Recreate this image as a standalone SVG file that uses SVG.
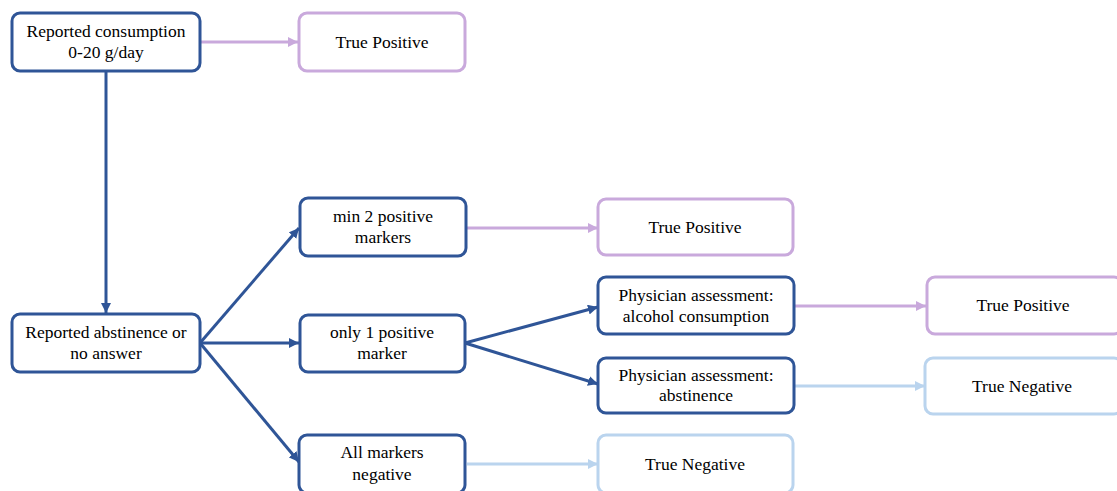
<svg xmlns="http://www.w3.org/2000/svg" width="1117" height="491" viewBox="0 0 1117 491">
<style>
.box{fill:#fff;stroke-width:3}
.dk{stroke:#2f5597}
.pu{stroke:#c9a9dc}
.lb{stroke:#bad4ee}
.t{font-family:'Liberation Serif','Times New Roman',serif;font-size:17.5px;fill:#000;text-anchor:middle}
.ln{fill:none;stroke-width:3}
</style>
<defs>
<marker id="aDk" viewBox="0 0 10 10" refX="10" refY="5" markerWidth="10" markerHeight="10" markerUnits="userSpaceOnUse" orient="auto"><path d="M0,0L10,5L0,10z" fill="#2f5597"/></marker>
<marker id="aPu" viewBox="0 0 10 10" refX="10" refY="5" markerWidth="10" markerHeight="10" markerUnits="userSpaceOnUse" orient="auto"><path d="M0,0L10,5L0,10z" fill="#c9a9dc"/></marker>
<marker id="aLb" viewBox="0 0 10 10" refX="10" refY="5" markerWidth="10" markerHeight="10" markerUnits="userSpaceOnUse" orient="auto"><path d="M0,0L10,5L0,10z" fill="#bad4ee"/></marker>
</defs>
<g id="connectors">
<line class="ln pu" x1="201" y1="42" x2="298" y2="42" marker-end="url(#aPu)"/>
<line class="ln dk" x1="106" y1="71" x2="106" y2="313" marker-end="url(#aDk)"/>
<line class="ln dk" x1="200" y1="343" x2="299" y2="228" marker-end="url(#aDk)"/>
<line class="ln dk" x1="200" y1="343" x2="299" y2="343" marker-end="url(#aDk)"/>
<line class="ln dk" x1="200" y1="343" x2="299" y2="462" marker-end="url(#aDk)"/>
<line class="ln pu" x1="467" y1="228" x2="598" y2="228" marker-end="url(#aPu)"/>
<line class="ln dk" x1="465" y1="343" x2="598" y2="307" marker-end="url(#aDk)"/>
<line class="ln dk" x1="465" y1="343" x2="598" y2="384" marker-end="url(#aDk)"/>
<line class="ln pu" x1="795" y1="306" x2="926" y2="306" marker-end="url(#aPu)"/>
<line class="ln lb" x1="795" y1="386" x2="925" y2="386" marker-end="url(#aLb)"/>
<line class="ln lb" x1="467" y1="464" x2="598" y2="464" marker-end="url(#aLb)"/>
</g>
<g id="n1"><rect class="box dk" x="12" y="13" width="188" height="58" rx="8"/><text class="t" x="106" y="37">Reported consumption</text><text class="t" x="106" y="58">0-20 g/day</text></g>
<g id="n2"><rect class="box pu" x="299" y="13" width="166" height="58" rx="8"/><text class="t" x="382" y="48">True Positive</text></g>
<g id="n3"><rect class="box dk" x="12" y="314" width="188" height="58" rx="8"/><text class="t" x="106" y="338">Reported abstinence or</text><text class="t" x="106" y="359">no answer</text></g>
<g id="n4"><rect class="box dk" x="300" y="198" width="166" height="58" rx="8"/><text class="t" x="383" y="222">min 2 positive</text><text class="t" x="383" y="243">markers</text></g>
<g id="n5"><rect class="box dk" x="300" y="315" width="165" height="57" rx="8"/><text class="t" x="382" y="338">only 1 positive</text><text class="t" x="382" y="359">marker</text></g>
<g id="n6"><rect class="box dk" x="299" y="435" width="166" height="58" rx="8"/><text class="t" x="382" y="458">All markers</text><text class="t" x="382" y="480">negative</text></g>
<g id="n7"><rect class="box pu" x="598" y="199" width="195" height="56" rx="8"/><text class="t" x="695" y="233">True Positive</text></g>
<g id="n8"><rect class="box dk" x="598" y="277" width="196" height="57" rx="8"/><text class="t" x="696" y="301">Physician assessment:</text><text class="t" x="696" y="322">alcohol consumption</text></g>
<g id="n9"><rect class="box dk" x="598" y="358" width="196" height="55" rx="8"/><text class="t" x="696" y="381">Physician assessment:</text><text class="t" x="696" y="401">abstinence</text></g>
<g id="n10"><rect class="box lb" x="598" y="435" width="195" height="58" rx="8"/><text class="t" x="695" y="470">True Negative</text></g>
<g id="n11"><rect class="box pu" x="927" y="277" width="195" height="57" rx="8"/><text class="t" x="1023" y="311">True Positive</text></g>
<g id="n12"><rect class="box lb" x="925" y="358" width="197" height="56" rx="8"/><text class="t" x="1022" y="392">True Negative</text></g>
</svg>
